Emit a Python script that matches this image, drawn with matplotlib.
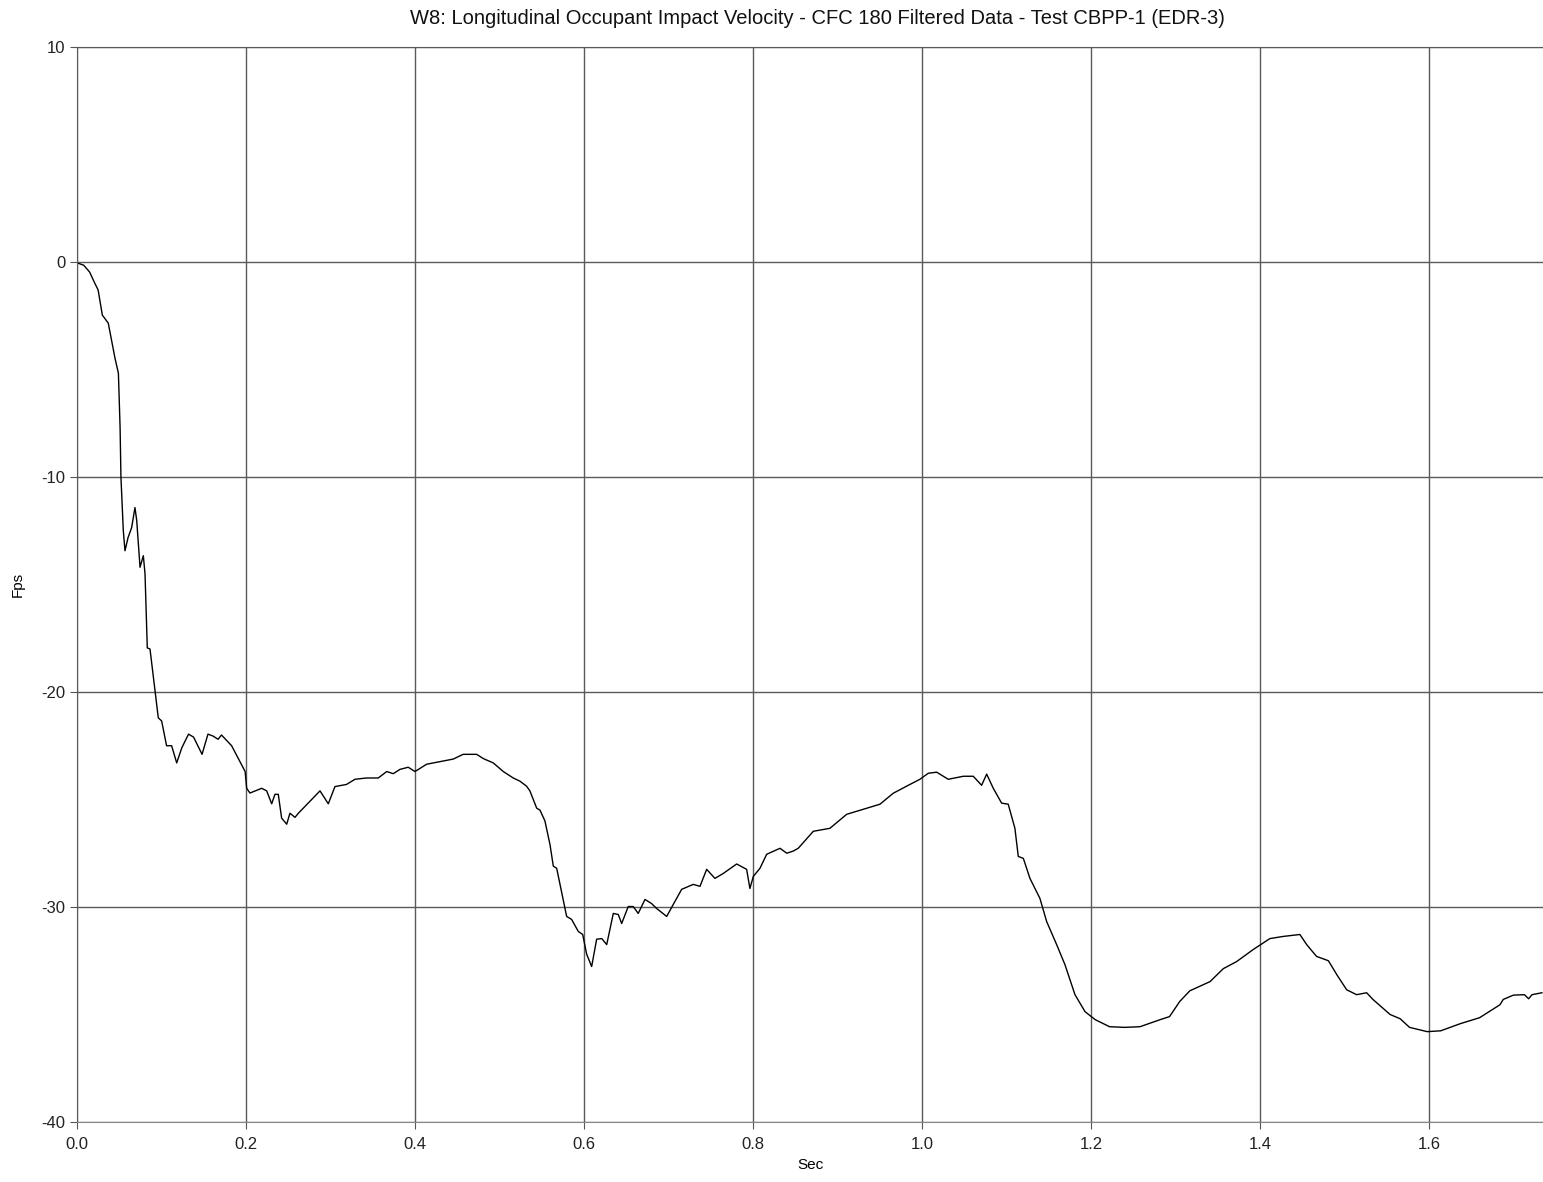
import numpy as np
import matplotlib.pyplot as plt

plt.rcParams['font.family'] = ['Liberation Sans', 'DejaVu Sans']
plt.rcParams['axes.unicode_minus'] = False  # plain hyphen on negative ticks

# (time in s, velocity in fps)
t = [0.0, 0.001, 0.008, 0.015, 0.021, 0.025, 0.030, 0.037, 0.045, 0.049,
     0.051, 0.052, 0.0548, 0.0568, 0.0604, 0.0647, 0.0686, 0.0707, 0.0746,
     0.0785, 0.0805, 0.0832, 0.0864, 0.0923, 0.0962, 0.1002, 0.106, 0.112,
     0.118, 0.124, 0.132, 0.138, 0.148, 0.155, 0.161, 0.167, 0.171, 0.183,
     0.199, 0.2008, 0.2047, 0.2186, 0.2245, 0.2304, 0.2343, 0.2382, 0.2422,
     0.2482, 0.252, 0.258, 0.262, 0.2757, 0.2876, 0.2974, 0.3053, 0.319,
     0.329, 0.3428, 0.3566, 0.3665, 0.3743, 0.3822, 0.392, 0.40, 0.4138,
     0.4453, 0.457, 0.473, 0.481, 0.4927, 0.5045, 0.5163, 0.5243, 0.532,
     0.536, 0.544, 0.548, 0.5538, 0.5598, 0.5637, 0.5677, 0.5775, 0.5795,
     0.5854, 0.5933, 0.5985, 0.6032, 0.6091, 0.615, 0.621, 0.6269, 0.6347,
     0.6406, 0.6446, 0.6524, 0.6583, 0.6642, 0.6722, 0.680, 0.686, 0.6979,
     0.7057, 0.7156, 0.7293, 0.7373, 0.7452, 0.755, 0.7649, 0.7807, 0.7925,
     0.7964, 0.8004, 0.8083, 0.8162, 0.832, 0.84, 0.8477, 0.8536, 0.8714,
     0.8911, 0.9109, 0.9503, 0.966, 0.9819, 0.9976, 1.0075, 1.0174, 1.0311,
     1.0489, 1.0607, 1.0706, 1.0766, 1.0844, 1.0943, 1.1021, 1.11, 1.114,
     1.12, 1.1278, 1.1396, 1.1476, 1.1594, 1.1692, 1.1811, 1.193, 1.205,
     1.222, 1.240, 1.258, 1.282, 1.293, 1.305, 1.317, 1.341, 1.3566, 1.3724,
     1.392, 1.4118, 1.4276, 1.4473, 1.4553, 1.467, 1.481, 1.491, 1.5026,
     1.5144, 1.5263, 1.5337, 1.554, 1.566, 1.577, 1.598, 1.614, 1.637, 1.66,
     1.684, 1.688, 1.700, 1.713, 1.718, 1.722, 1.7337]
v = [0.0, -0.05, -0.15, -0.47, -0.98, -1.3, -2.47, -2.84, -4.48, -5.17,
     -7.7, -10.0, -12.49, -13.43, -12.82, -12.35, -11.42, -12.03, -14.2,
     -13.66, -14.5, -17.95, -18.0, -19.95, -21.2, -21.35, -22.5, -22.5,
     -23.3, -22.6, -21.96, -22.1, -22.9, -21.96, -22.05, -22.2, -22.0, -22.5,
     -23.7, -24.48, -24.7, -24.48, -24.6, -25.2, -24.76, -24.76, -25.87,
     -26.15, -25.64, -25.83, -25.64, -25.08, -24.6, -25.2, -24.4, -24.3,
     -24.06, -24.0, -24.0, -23.7, -23.8, -23.6, -23.5, -23.7, -23.36,
     -23.12, -22.9, -22.9, -23.1, -23.3, -23.7, -24.0, -24.15, -24.38,
     -24.6, -25.4, -25.5, -26.0, -27.1, -28.1, -28.2, -30.07, -30.44,
     -30.58, -31.14, -31.28, -32.2, -32.77, -31.5, -31.47, -31.75, -30.3,
     -30.35, -30.77, -29.98, -29.98, -30.3, -29.65, -29.84, -30.07, -30.44,
     -29.88, -29.18, -28.95, -29.04, -28.25, -28.67, -28.44, -28.0, -28.25,
     -29.14, -28.58, -28.2, -27.55, -27.27, -27.5, -27.4, -27.27, -26.48,
     -26.34, -25.69, -25.22, -24.71, -24.38, -24.06, -23.78, -23.73, -24.06,
     -23.92, -23.92, -24.34, -23.82, -24.48, -25.17, -25.22, -26.34, -27.65,
     -27.74, -28.67, -29.6, -30.68, -31.75, -32.68, -34.08, -34.87, -35.24,
     -35.57, -35.6, -35.57, -35.24, -35.1, -34.4, -33.9, -33.47, -32.87,
     -32.54, -31.98, -31.47, -31.37, -31.28, -31.75, -32.3, -32.5, -33.15,
     -33.85, -34.08, -33.99, -34.3, -35.0, -35.2, -35.6, -35.8, -35.76,
     -35.43, -35.15, -34.55, -34.3, -34.1, -34.08, -34.27, -34.08, -33.99]

xticks = [0.0, 0.2, 0.4, 0.6, 0.8, 1.0, 1.2, 1.4, 1.6]
yticks = [-40, -30, -20, -10, 0, 10]

fig = plt.figure(figsize=(15.43, 11.82), dpi=100)
ax = fig.add_axes([0.0499, 0.0508, 0.9501, 0.9094])

ax.plot(t, v, color='black', linewidth=1.0)

ax.set_xlim(0, 1.735)
ax.set_ylim(-40, 10)
ax.set_xticks(xticks)
ax.set_xticklabels(['%.1f' % x for x in xticks])
ax.set_yticks(yticks)
ax.grid(True, color='#5a5a5a', linewidth=1.0)
ax.set_axisbelow(True)

ax.spines['right'].set_visible(False)
ax.spines['top'].set_color('#5a5a5a')
ax.spines['left'].set_color('#5a5a5a')
ax.spines['bottom'].set_color('#888888')
ax.tick_params(axis='both', labelsize=12, colors='#222222', length=5,
               color='#555555')
ax.tick_params(axis='x', pad=6)

ax.set_xlabel('Sec', fontsize=11, labelpad=4)
ax.set_ylabel('Fps', fontsize=11, labelpad=12)
fig.text(0.53, 0.984, 'W8: Longitudinal Occupant Impact Velocity - CFC 180 Filtered Data - Test CBPP-1 (EDR-3)',
         ha='center', va='center', fontsize=14.5, color='#111111')

fig.savefig('out.png', dpi=100)
